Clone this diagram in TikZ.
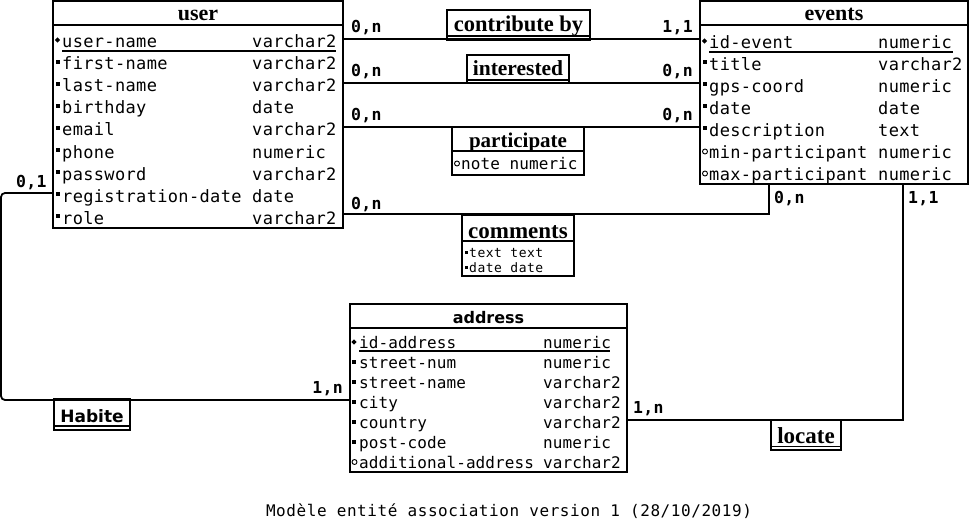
\documentclass[tikz,border=0pt]{standalone}
\usepackage{fontspec}
\newfontfamily\monoU[LetterSpace=2]{DejaVu Sans Mono}
\newfontfamily\monoA[LetterSpace=0.5]{DejaVu Sans Mono}
\newfontfamily\monoS[LetterSpace=4]{DejaVu Sans Mono}
\newfontfamily\monoB[LetterSpace=2]{DejaVu Sans Mono}
\newfontfamily\monoC[LetterSpace=3.5]{DejaVu Sans Mono}
\newfontfamily\serifH{Liberation Serif}
\newfontfamily\sansH{DejaVu Sans}
\newcommand\KeyMk[2]{\fill (#1,#2) ++(-2.6,0) -- ++(2.6,-2.6) -- ++(2.6,2.6) -- ++(-2.6,2.6) -- cycle;}
\newcommand\ReqMk[2]{\fill (#1-2,#2-2) rectangle ++(4,4);}
\newcommand\SmMk[2]{\fill (#1-1.5,#2-1.5) rectangle ++(3,3);}
\newcommand\OptMk[2]{\draw[line width=0.9pt] (#1,#2) circle[radius=2.5pt];}
% row: #1 style, #2 name, #3 name x, #4 type x, #5 baseline, #6 text, #7 type
\newcommand\ARow[7]{\node[#1] (#2n) at (#3,#5) {#6}; \node[#1] (#2t) at (#4,#5) {#7};}
\begin{document}
\begin{tikzpicture}[x=1pt,y=-1pt,
  ent/.style={draw, rectangle, line width=1.8pt, inner sep=0pt, outer sep=0pt, anchor=north west},
  sepl/.style={line width=1.8pt},
  conn/.style={line width=1.8pt},
  urow/.style={anchor=base west, inner sep=0pt, font=\monoU\fontsize{17}{19}\selectfont},
  arow/.style={anchor=base west, inner sep=0pt, font=\monoA\fontsize{16}{18}\selectfont},
  srow/.style={anchor=base west, inner sep=0pt, font=\monoS\fontsize{13}{15}\selectfont},
  card/.style={anchor=base west, inner sep=0pt, font=\monoB\bfseries\fontsize{16.5}{18}\selectfont},
  cardr/.style={card, anchor=base east},
  hdr/.style={anchor=base, inner sep=0pt, font=\serifH\bfseries\fontsize{#1}{#1}\selectfont},
  hdrs/.style={anchor=base, inner sep=0pt, font=\sansH\bfseries\fontsize{#1}{#1}\selectfont},
  uline/.style={line width=1.2pt}
]
\useasboundingbox (0,0) rectangle (972,524);
\fill[white] (0,0) rectangle (972,524);

% ---------- connectors ----------
\coordinate (c1) at (0,39);
\coordinate (c2) at (0,83);
\coordinate (c3) at (0,127);
\coordinate (c4) at (769,214);
\coordinate (c5) at (903,420);
\coordinate (c6) at (1,193);
\coordinate (c7) at (1,400);

% ---------- entities ----------
\node[ent, minimum width=290pt, minimum height=227pt] (user) at (53,1) {};
\node[ent, minimum width=268pt, minimum height=183pt] (events) at (700,1) {};
\node[ent, minimum width=277pt, minimum height=168pt] (address) at (350,304) {};

\draw[conn] (user.east |- c1) -- (events.west |- c1);
\draw[conn] (user.east |- c2) -- (events.west |- c2);
\draw[conn] (user.east |- c3) -- (events.west |- c3);
\draw[conn] (user.east |- c4) -- (c4) -- (c4 |- events.south);
\draw[conn] (address.east |- c5) -- (c5) -- (c5 |- events.south);
\draw[conn, rounded corners=4pt] (user.west |- c6) -- (c6) -- (c7) -- (address.west |- c7);

\draw[sepl] ([yshift=-24pt]user.north west) -- ([yshift=-24pt]user.north east);
\draw[sepl] ([yshift=-24pt]events.north west) -- ([yshift=-24pt]events.north east);
\draw[sepl] ([yshift=-24pt]address.north west) -- ([yshift=-24pt]address.north east);

\node[hdr=22] (userT) at (198,21) {user};
\node[hdr=22] (eventsT) at (834,21) {events};
\node[hdrs=16] (addressT) at (488.5,323) {address};

% user rows
\ARow{urow}{u1}{62}{252}{48}{user-name}{varchar2}
\ARow{urow}{u2}{62}{252}{70}{first-name}{varchar2}
\ARow{urow}{u3}{62}{252}{92}{last-name}{varchar2}
\ARow{urow}{u4}{62}{252}{114}{birthday}{date}
\ARow{urow}{u5}{62}{252}{136}{email}{varchar2}
\ARow{urow}{u6}{62}{252}{158}{phone}{numeric}
\ARow{urow}{u7}{62}{252}{180}{password}{varchar2}
\ARow{urow}{u8}{62}{252}{202}{registration-date}{date}
\ARow{urow}{u9}{62}{252}{224}{role}{varchar2}
\draw[uline] (62,51) -- (336,51);
\KeyMk{57.5}{40}
\foreach \yy in {62,84,106,128,150,172,194,216} {\ReqMk{57.5}{\yy}}

% events rows
\ARow{urow}{e1}{709}{878}{49}{id-event}{numeric}
\ARow{urow}{e2}{709}{878}{71}{title}{varchar2}
\ARow{urow}{e3}{709}{878}{93}{gps-coord}{numeric}
\ARow{urow}{e4}{709}{878}{115}{date}{date}
\ARow{urow}{e5}{709}{878}{137}{description}{text}
\ARow{urow}{e6}{709}{878}{159}{min-participant}{numeric}
\ARow{urow}{e7}{709}{878}{181}{max-participant}{numeric}
\draw[uline] (709,52) -- (953,52);
\KeyMk{704.5}{41}
\foreach \yy in {62,84,106,128} {\ReqMk{704.5}{\yy}}
\OptMk{705}{151.5}
\OptMk{705}{173.5}

% address rows
\ARow{arow}{a1}{359}{543}{348}{id-address}{numeric}
\ARow{arow}{a2}{359}{543}{368}{street-num}{numeric}
\ARow{arow}{a3}{359}{543}{388}{street-name}{varchar2}
\ARow{arow}{a4}{359}{543}{408}{city}{varchar2}
\ARow{arow}{a5}{359}{543}{428}{country}{varchar2}
\ARow{arow}{a6}{359}{543}{448}{post-code}{numeric}
\ARow{arow}{a7}{359}{543}{468}{additional-address}{varchar2}
\draw[uline] (359,351) -- (610,351);
\KeyMk{354}{342}
\foreach \yy in {362,382,402,422,442} {\ReqMk{354}{\yy}}
\OptMk{354.5}{462}

% ---------- relations ----------
\node[ent, minimum width=143pt, minimum height=30pt] (contrib) at (447,10) {};
\draw[sepl] ([yshift=-26pt]contrib.north west) -- ([yshift=-26pt]contrib.north east);
\node[hdr=22.5] (contribT) at (518.5,32) {contribute by};

\node[ent, minimum width=102pt, minimum height=28pt] (inter) at (467,55) {};
\draw[sepl] ([yshift=-25pt]inter.north west) -- ([yshift=-25pt]inter.north east);
\node[hdr=21.5] (interT) at (518,76) {interested};

\node[ent, minimum width=132pt, minimum height=48pt] (partic) at (452,127) {};
\draw[sepl] ([yshift=-24pt]partic.north west) -- ([yshift=-24pt]partic.north east);
\node[hdr=21] (particT) at (518,148) {participate};
\node[arow] (particA) at (461,170) {note numeric};
\OptMk{457}{163.5}

\node[ent, minimum width=112pt, minimum height=61pt] (comm) at (462,215) {};
\draw[sepl] ([yshift=-26pt]comm.north west) -- ([yshift=-26pt]comm.north east);
\node[hdr=23] (commT) at (518,238) {comments};
\node[srow] (commA1) at (469,257) {text text};
\node[srow] (commA2) at (469,272) {date date};
\SmMk{466}{252}
\SmMk{466}{267}

\node[ent, minimum width=76pt, minimum height=31pt] (habite) at (54,399) {};
\draw[sepl] ([yshift=-27pt]habite.north west) -- ([yshift=-27pt]habite.north east);
\node[hdrs=17] (habiteT) at (92,422) {Habite};

\node[ent, minimum width=70pt, minimum height=30pt] (locate) at (771,420) {};
\draw[sepl] ([yshift=-26.5pt]locate.north west) -- ([yshift=-26.5pt]locate.north east);
\node[hdr=23] (locateT) at (806,443) {locate};

% ---------- cardinalities ----------
\node[card] (k1) at (351,33) {0,n};
\node[cardr] (k2) at (693,33) {1,1};
\node[card] (k3) at (351,77) {0,n};
\node[cardr] (k4) at (693,77) {0,n};
\node[card] (k5) at (351,121) {0,n};
\node[cardr] (k6) at (693,121) {0,n};
\node[card] (k7) at (351,209) {0,n};
\node[card] (k8) at (774,203) {0,n};
\node[card] (k9) at (908,203) {1,1};
\node[card] (k10) at (633,413) {1,n};
\node[card] (k11) at (16,187) {0,1};
\node[cardr] (k12) at (343,393) {1,n};

% ---------- caption ----------
\node[anchor=base, inner sep=0pt, font=\monoC\fontsize{16}{18}\selectfont] (caption) at (509,516) {Modèle entité association version 1 (28/10/2019)};
\end{tikzpicture}
\end{document}
